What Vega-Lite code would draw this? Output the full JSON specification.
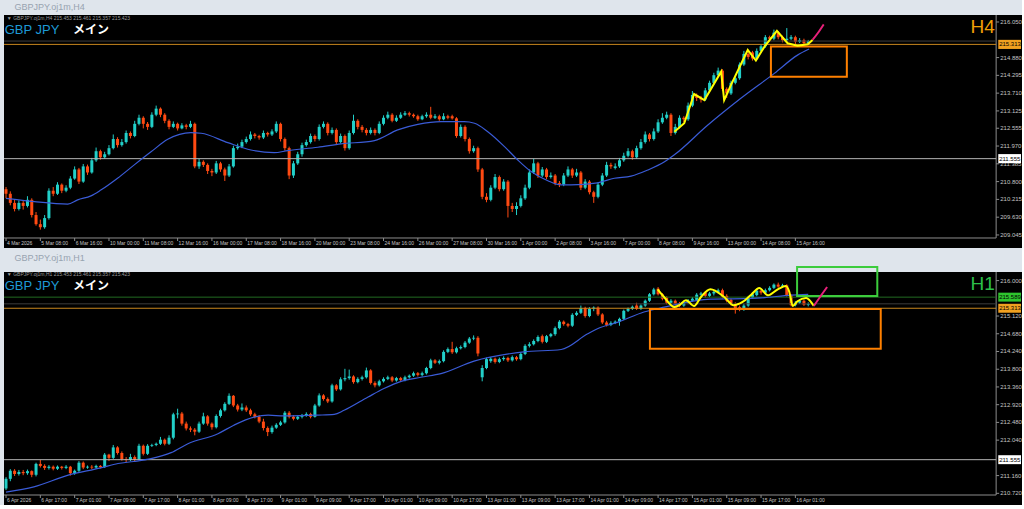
{
"$schema":"https://vega.github.io/schema/vega-lite/v6.json",
"background":"#dfe5ec",
"padding":{"left":3,"top":2,"right":0,"bottom":0},
"bounds":"flush",
"spacing":24,
"config":{"view":{"stroke":null,"fill":null},"font":"Liberation Sans"},
"datasets":{
"xl4":[{"b":0,"t":"4 Mar 2026"},{"b":8,"t":"5 Mar 08:00"},{"b":16,"t":"6 Mar 16:00"},{"b":24,"t":"10 Mar 00:00"},{"b":32,"t":"11 Mar 08:00"},{"b":40,"t":"12 Mar 16:00"},{"b":48,"t":"16 Mar 00:00"},{"b":56,"t":"17 Mar 08:00"},{"b":64,"t":"18 Mar 16:00"},{"b":72,"t":"20 Mar 00:00"},{"b":80,"t":"23 Mar 08:00"},{"b":88,"t":"24 Mar 16:00"},{"b":96,"t":"26 Mar 00:00"},{"b":104,"t":"27 Mar 08:00"},{"b":112,"t":"30 Mar 16:00"},{"b":120,"t":"1 Apr 00:00"},{"b":128,"t":"2 Apr 08:00"},{"b":136,"t":"3 Apr 16:00"},{"b":144,"t":"7 Apr 00:00"},{"b":152,"t":"8 Apr 08:00"},{"b":160,"t":"9 Apr 16:00"},{"b":168,"t":"13 Apr 00:00"},{"b":176,"t":"14 Apr 08:00"},{"b":184,"t":"15 Apr 16:00"}],
"xl1":[{"b":0,"t":"6 Apr 2026"},{"b":8,"t":"6 Apr 17:00"},{"b":16,"t":"7 Apr 01:00"},{"b":24,"t":"7 Apr 09:00"},{"b":32,"t":"7 Apr 17:00"},{"b":40,"t":"8 Apr 01:00"},{"b":48,"t":"8 Apr 09:00"},{"b":56,"t":"8 Apr 17:00"},{"b":64,"t":"9 Apr 01:00"},{"b":72,"t":"9 Apr 09:00"},{"b":80,"t":"9 Apr 17:00"},{"b":88,"t":"10 Apr 01:00"},{"b":96,"t":"10 Apr 09:00"},{"b":104,"t":"10 Apr 17:00"},{"b":112,"t":"13 Apr 01:00"},{"b":120,"t":"13 Apr 09:00"},{"b":128,"t":"13 Apr 17:00"},{"b":136,"t":"14 Apr 01:00"},{"b":144,"t":"14 Apr 09:00"},{"b":152,"t":"14 Apr 17:00"},{"b":160,"t":"15 Apr 01:00"},{"b":168,"t":"15 Apr 09:00"},{"b":176,"t":"15 Apr 17:00"},{"b":184,"t":"16 Apr 01:00"}],
"yl4":[{"p":216.05,"t":"216.050"},{"p":214.88,"t":"214.880"},{"p":214.295,"t":"214.295"},{"p":213.71,"t":"213.710"},{"p":213.125,"t":"213.125"},{"p":212.555,"t":"212.555"},{"p":211.97,"t":"211.970"},{"p":211.385,"t":"211.385"},{"p":210.8,"t":"210.800"},{"p":210.215,"t":"210.215"},{"p":209.63,"t":"209.630"},{"p":209.045,"t":"209.045"}],
"yl1":[{"p":216.0,"t":"216.000"},{"p":215.12,"t":"215.120"},{"p":214.68,"t":"214.680"},{"p":214.24,"t":"214.240"},{"p":213.8,"t":"213.800"},{"p":213.36,"t":"213.360"},{"p":212.92,"t":"212.920"},{"p":212.48,"t":"212.480"},{"p":212.04,"t":"212.040"},{"p":211.16,"t":"211.160"},{"p":210.72,"t":"210.720"}],
"h4":[
{"b":0,"o":210.55,"h":210.62,"l":210.25,"c":210.40},{"b":1,"o":210.40,"h":210.48,"l":210.02,"c":210.10},{"b":2,"o":210.10,"h":210.22,"l":209.82,"c":209.90},{"b":3,"o":209.90,"h":210.18,"l":209.85,"c":210.10},{"b":4,"o":210.10,"h":210.16,"l":209.88,"c":210.00},{"b":5,"o":210.00,"h":210.32,"l":209.95,"c":210.20},{"b":6,"o":210.20,"h":210.25,"l":209.62,"c":209.70},{"b":7,"o":209.70,"h":209.80,"l":209.35,"c":209.40},{"b":8,"o":209.40,"h":209.55,"l":209.22,"c":209.30},{"b":9,"o":209.30,"h":209.70,"l":209.25,"c":209.60},
{"b":10,"o":209.60,"h":210.58,"l":209.55,"c":210.50},{"b":11,"o":210.50,"h":210.62,"l":210.32,"c":210.40},{"b":12,"o":210.40,"h":210.78,"l":210.36,"c":210.70},{"b":13,"o":210.70,"h":210.74,"l":210.42,"c":210.50},{"b":14,"o":210.50,"h":210.68,"l":210.45,"c":210.60},{"b":15,"o":210.60,"h":210.98,"l":210.55,"c":210.90},{"b":16,"o":210.90,"h":211.30,"l":210.86,"c":211.20},{"b":17,"o":211.20,"h":211.25,"l":210.72,"c":210.80},{"b":18,"o":210.80,"h":211.38,"l":210.76,"c":211.30},{"b":19,"o":211.30,"h":211.36,"l":211.02,"c":211.10},
{"b":20,"o":211.10,"h":211.58,"l":211.06,"c":211.50},{"b":21,"o":211.50,"h":211.92,"l":211.45,"c":211.80},{"b":22,"o":211.80,"h":211.85,"l":211.52,"c":211.60},{"b":23,"o":211.60,"h":211.78,"l":211.55,"c":211.70},{"b":24,"o":211.70,"h":212.00,"l":211.66,"c":211.90},{"b":25,"o":211.90,"h":212.35,"l":211.86,"c":212.20},{"b":26,"o":212.20,"h":212.26,"l":211.92,"c":212.00},{"b":27,"o":212.00,"h":212.20,"l":211.95,"c":212.10},{"b":28,"o":212.10,"h":212.48,"l":212.05,"c":212.40},{"b":29,"o":212.40,"h":212.45,"l":212.22,"c":212.30},
{"b":30,"o":212.30,"h":212.80,"l":212.26,"c":212.70},{"b":31,"o":212.70,"h":213.00,"l":212.65,"c":212.90},{"b":32,"o":212.90,"h":212.95,"l":212.55,"c":212.70},{"b":33,"o":212.70,"h":212.76,"l":212.50,"c":212.60},{"b":34,"o":212.60,"h":213.08,"l":212.56,"c":213.00},{"b":35,"o":213.00,"h":213.30,"l":212.95,"c":213.20},{"b":36,"o":213.20,"h":213.24,"l":212.92,"c":213.00},{"b":37,"o":213.00,"h":213.05,"l":212.72,"c":212.80},{"b":38,"o":212.80,"h":212.85,"l":212.52,"c":212.60},{"b":39,"o":212.60,"h":212.78,"l":212.56,"c":212.70},
{"b":40,"o":212.70,"h":212.74,"l":212.48,"c":212.55},{"b":41,"o":212.55,"h":212.72,"l":212.52,"c":212.65},{"b":42,"o":212.65,"h":212.70,"l":212.52,"c":212.60},{"b":43,"o":212.60,"h":212.80,"l":212.56,"c":212.70},{"b":44,"o":212.70,"h":212.74,"l":211.24,"c":211.30},{"b":45,"o":211.30,"h":211.55,"l":211.22,"c":211.45},{"b":46,"o":211.45,"h":211.50,"l":211.28,"c":211.35},{"b":47,"o":211.35,"h":211.40,"l":211.05,"c":211.15},{"b":48,"o":211.15,"h":211.22,"l":210.98,"c":211.10},{"b":49,"o":211.10,"h":211.48,"l":211.05,"c":211.40},
{"b":50,"o":211.40,"h":211.45,"l":211.12,"c":211.20},{"b":51,"o":211.20,"h":211.26,"l":210.82,"c":211.00},{"b":52,"o":211.00,"h":211.38,"l":210.95,"c":211.30},{"b":53,"o":211.30,"h":211.98,"l":211.26,"c":211.90},{"b":54,"o":211.90,"h":212.05,"l":211.85,"c":211.95},{"b":55,"o":211.95,"h":212.18,"l":211.90,"c":212.10},{"b":56,"o":212.10,"h":212.28,"l":212.05,"c":212.20},{"b":57,"o":212.20,"h":212.45,"l":212.15,"c":212.35},{"b":58,"o":212.35,"h":212.40,"l":212.22,"c":212.30},{"b":59,"o":212.30,"h":212.34,"l":212.18,"c":212.25},
{"b":60,"o":212.25,"h":212.48,"l":212.20,"c":212.40},{"b":61,"o":212.40,"h":212.44,"l":212.28,"c":212.35},{"b":62,"o":212.35,"h":212.52,"l":212.30,"c":212.45},{"b":63,"o":212.45,"h":212.78,"l":212.40,"c":212.70},{"b":64,"o":212.70,"h":212.74,"l":212.12,"c":212.20},{"b":65,"o":212.20,"h":212.25,"l":211.82,"c":211.90},{"b":66,"o":211.90,"h":211.95,"l":210.88,"c":211.00},{"b":67,"o":211.00,"h":211.48,"l":210.92,"c":211.40},{"b":68,"o":211.40,"h":211.78,"l":211.35,"c":211.70},{"b":69,"o":211.70,"h":212.08,"l":211.62,"c":212.00},
{"b":70,"o":212.00,"h":212.18,"l":211.95,"c":212.10},{"b":71,"o":212.10,"h":212.38,"l":212.05,"c":212.30},{"b":72,"o":212.30,"h":212.35,"l":212.12,"c":212.20},{"b":73,"o":212.20,"h":212.68,"l":212.15,"c":212.60},{"b":74,"o":212.60,"h":212.78,"l":212.55,"c":212.70},{"b":75,"o":212.70,"h":212.75,"l":212.32,"c":212.40},{"b":76,"o":212.40,"h":212.58,"l":212.35,"c":212.50},{"b":77,"o":212.50,"h":212.55,"l":212.02,"c":212.10},{"b":78,"o":212.10,"h":212.38,"l":212.05,"c":212.30},{"b":79,"o":212.30,"h":212.35,"l":211.82,"c":211.90},
{"b":80,"o":211.90,"h":212.48,"l":211.85,"c":212.40},{"b":81,"o":212.40,"h":213.00,"l":212.35,"c":212.80},{"b":82,"o":212.80,"h":212.85,"l":212.52,"c":212.60},{"b":83,"o":212.60,"h":212.66,"l":212.42,"c":212.50},{"b":84,"o":212.50,"h":212.56,"l":212.32,"c":212.40},{"b":85,"o":212.40,"h":212.58,"l":212.35,"c":212.50},{"b":86,"o":212.50,"h":212.55,"l":212.32,"c":212.40},{"b":87,"o":212.40,"h":212.78,"l":212.36,"c":212.70},{"b":88,"o":212.70,"h":212.98,"l":212.65,"c":212.90},{"b":89,"o":212.90,"h":213.10,"l":212.85,"c":213.00},
{"b":90,"o":213.00,"h":213.05,"l":212.75,"c":212.80},{"b":91,"o":212.80,"h":212.98,"l":212.76,"c":212.90},{"b":92,"o":212.90,"h":213.08,"l":212.86,"c":213.00},{"b":93,"o":213.00,"h":213.12,"l":212.96,"c":213.05},{"b":94,"o":213.05,"h":213.10,"l":212.94,"c":213.00},{"b":95,"o":213.00,"h":213.04,"l":212.90,"c":212.95},{"b":96,"o":212.95,"h":213.00,"l":212.80,"c":212.85},{"b":97,"o":212.85,"h":213.00,"l":212.82,"c":212.95},{"b":98,"o":212.95,"h":213.08,"l":212.90,"c":213.00},{"b":99,"o":213.00,"h":213.26,"l":212.85,"c":212.90},
{"b":100,"o":212.90,"h":213.02,"l":212.86,"c":212.95},{"b":101,"o":212.95,"h":213.00,"l":212.80,"c":212.85},{"b":102,"o":212.85,"h":213.05,"l":212.82,"c":212.95},{"b":103,"o":212.95,"h":213.00,"l":212.85,"c":212.90},{"b":104,"o":212.95,"h":213.00,"l":212.84,"c":212.88},{"b":105,"o":212.88,"h":212.92,"l":212.24,"c":212.30},{"b":106,"o":212.30,"h":212.68,"l":212.25,"c":212.60},{"b":107,"o":212.60,"h":212.65,"l":212.12,"c":212.20},{"b":108,"o":212.20,"h":212.25,"l":211.72,"c":211.80},{"b":109,"o":211.80,"h":211.98,"l":211.75,"c":211.90},
{"b":110,"o":211.90,"h":211.95,"l":211.12,"c":211.20},{"b":111,"o":211.20,"h":211.25,"l":210.22,"c":210.30},{"b":112,"o":210.30,"h":210.42,"l":210.12,"c":210.20},{"b":113,"o":210.20,"h":210.68,"l":210.15,"c":210.60},{"b":114,"o":210.60,"h":211.05,"l":210.55,"c":210.95},{"b":115,"o":210.95,"h":211.00,"l":210.48,"c":210.55},{"b":116,"o":210.55,"h":210.88,"l":210.50,"c":210.80},{"b":117,"o":210.80,"h":210.85,"l":209.62,"c":210.00},{"b":118,"o":210.00,"h":210.10,"l":209.80,"c":209.90},{"b":119,"o":209.90,"h":210.12,"l":209.70,"c":210.00},
{"b":120,"o":210.00,"h":210.35,"l":209.95,"c":210.25},{"b":121,"o":210.25,"h":210.70,"l":210.20,"c":210.60},{"b":122,"o":210.60,"h":211.20,"l":210.55,"c":211.10},{"b":123,"o":211.10,"h":211.55,"l":211.05,"c":211.40},{"b":124,"o":211.40,"h":211.45,"l":210.92,"c":211.00},{"b":125,"o":211.00,"h":211.28,"l":210.95,"c":211.20},{"b":126,"o":211.20,"h":211.25,"l":210.88,"c":210.95},{"b":127,"o":210.95,"h":211.10,"l":210.90,"c":211.00},{"b":128,"o":211.00,"h":211.05,"l":210.68,"c":210.75},{"b":129,"o":210.75,"h":210.82,"l":210.62,"c":210.70},
{"b":130,"o":210.70,"h":211.08,"l":210.65,"c":211.00},{"b":131,"o":211.00,"h":211.30,"l":210.95,"c":211.20},{"b":132,"o":211.20,"h":211.25,"l":210.92,"c":211.00},{"b":133,"o":211.00,"h":211.22,"l":210.95,"c":211.10},{"b":134,"o":211.10,"h":211.15,"l":210.52,"c":210.60},{"b":135,"o":210.60,"h":210.88,"l":210.55,"c":210.80},{"b":136,"o":210.80,"h":210.85,"l":210.38,"c":210.45},{"b":137,"o":210.45,"h":210.50,"l":210.10,"c":210.30},{"b":138,"o":210.30,"h":210.78,"l":210.25,"c":210.70},{"b":139,"o":210.70,"h":211.08,"l":210.65,"c":211.00},
{"b":140,"o":211.00,"h":211.45,"l":210.95,"c":211.35},{"b":141,"o":211.35,"h":211.42,"l":211.22,"c":211.30},{"b":142,"o":211.25,"h":211.40,"l":211.20,"c":211.30},{"b":143,"o":211.30,"h":211.58,"l":211.25,"c":211.50},{"b":144,"o":211.50,"h":211.75,"l":211.45,"c":211.65},{"b":145,"o":211.65,"h":211.90,"l":211.60,"c":211.80},{"b":146,"o":211.80,"h":211.85,"l":211.52,"c":211.60},{"b":147,"o":211.60,"h":211.98,"l":211.55,"c":211.90},{"b":148,"o":211.90,"h":212.20,"l":211.85,"c":212.10},{"b":149,"o":212.10,"h":212.45,"l":212.05,"c":212.35},
{"b":150,"o":212.35,"h":212.40,"l":212.12,"c":212.20},{"b":151,"o":212.20,"h":212.55,"l":212.15,"c":212.45},{"b":152,"o":212.45,"h":212.85,"l":212.40,"c":212.75},{"b":153,"o":212.75,"h":213.05,"l":212.70,"c":212.90},{"b":154,"o":212.90,"h":213.10,"l":212.85,"c":213.00},{"b":155,"o":213.00,"h":213.05,"l":212.30,"c":212.40},{"b":156,"o":212.40,"h":212.70,"l":212.35,"c":212.60},{"b":157,"o":212.60,"h":212.98,"l":212.55,"c":212.90},{"b":158,"o":212.90,"h":212.95,"l":212.75,"c":212.85},{"b":159,"o":212.85,"h":213.40,"l":212.80,"c":213.30},
{"b":160,"o":213.30,"h":213.78,"l":213.25,"c":213.65},{"b":161,"o":213.65,"h":213.70,"l":213.45,"c":213.55},{"b":162,"o":213.55,"h":213.62,"l":213.40,"c":213.50},{"b":163,"o":213.50,"h":213.88,"l":213.45,"c":213.80},{"b":164,"o":213.80,"h":214.12,"l":213.75,"c":214.05},{"b":165,"o":214.05,"h":214.38,"l":214.00,"c":214.30},{"b":166,"o":214.30,"h":214.55,"l":214.25,"c":214.45},{"b":167,"o":214.45,"h":214.50,"l":213.78,"c":213.85},{"b":168,"o":213.85,"h":213.90,"l":213.55,"c":213.70},{"b":169,"o":213.70,"h":214.12,"l":213.65,"c":214.05},
{"b":170,"o":214.05,"h":214.28,"l":214.00,"c":214.20},{"b":171,"o":214.20,"h":214.72,"l":214.15,"c":214.65},{"b":172,"o":214.65,"h":215.10,"l":214.60,"c":215.00},{"b":173,"o":215.00,"h":215.08,"l":214.82,"c":214.90},{"b":174,"o":215.05,"h":215.10,"l":214.78,"c":214.85},{"b":175,"o":214.85,"h":215.18,"l":214.80,"c":215.10},{"b":176,"o":215.10,"h":215.32,"l":215.05,"c":215.25},{"b":177,"o":215.25,"h":215.62,"l":215.20,"c":215.55},{"b":178,"o":215.55,"h":215.60,"l":215.40,"c":215.50},{"b":179,"o":215.50,"h":215.80,"l":215.45,"c":215.70},
{"b":180,"o":215.70,"h":215.75,"l":215.48,"c":215.55},{"b":181,"o":215.55,"h":215.60,"l":215.38,"c":215.45},{"b":182,"o":215.45,"h":215.85,"l":215.40,"c":215.50},{"b":183,"o":215.50,"h":215.62,"l":215.45,"c":215.55},{"b":184,"o":215.55,"h":215.60,"l":215.32,"c":215.40},{"b":185,"o":215.40,"h":215.52,"l":215.36,"c":215.45},{"b":186,"o":215.45,"h":215.50,"l":215.30,"c":215.35},{"b":187,"o":215.35,"h":215.46,"l":215.32,"c":215.42}
],
"h1":[
{"b":0,"o":210.84,"h":211.12,"l":210.80,"c":211.08},{"b":1,"o":211.08,"h":211.32,"l":211.02,"c":211.28},{"b":2,"o":211.28,"h":211.32,"l":211.15,"c":211.20},{"b":3,"o":211.20,"h":211.30,"l":211.16,"c":211.25},{"b":4,"o":211.25,"h":211.30,"l":211.17,"c":211.22},{"b":5,"o":211.22,"h":211.31,"l":211.18,"c":211.27},{"b":6,"o":211.27,"h":211.29,"l":211.12,"c":211.18},{"b":7,"o":211.18,"h":211.48,"l":211.14,"c":211.45},{"b":8,"o":211.45,"h":211.55,"l":211.36,"c":211.40},{"b":9,"o":211.40,"h":211.44,"l":211.30,"c":211.35},
{"b":10,"o":211.35,"h":211.42,"l":211.31,"c":211.38},{"b":11,"o":211.38,"h":211.41,"l":211.29,"c":211.33},{"b":12,"o":211.33,"h":211.41,"l":211.30,"c":211.38},{"b":13,"o":211.38,"h":211.40,"l":211.31,"c":211.35},{"b":14,"o":211.35,"h":211.42,"l":211.32,"c":211.38},{"b":15,"o":211.38,"h":211.40,"l":211.16,"c":211.22},{"b":16,"o":211.22,"h":211.31,"l":211.18,"c":211.28},{"b":17,"o":211.28,"h":211.52,"l":211.25,"c":211.48},{"b":18,"o":211.48,"h":211.51,"l":211.32,"c":211.36},{"b":19,"o":211.36,"h":211.41,"l":211.33,"c":211.38},
{"b":20,"o":211.38,"h":211.42,"l":211.32,"c":211.36},{"b":21,"o":211.36,"h":211.43,"l":211.33,"c":211.40},{"b":22,"o":211.40,"h":211.42,"l":211.34,"c":211.37},{"b":23,"o":211.37,"h":211.72,"l":211.35,"c":211.68},{"b":24,"o":211.68,"h":211.70,"l":211.52,"c":211.60},{"b":25,"o":211.60,"h":211.92,"l":211.57,"c":211.86},{"b":26,"o":211.86,"h":211.89,"l":211.68,"c":211.72},{"b":27,"o":211.72,"h":211.76,"l":211.53,"c":211.57},{"b":28,"o":211.57,"h":211.62,"l":211.49,"c":211.55},{"b":29,"o":211.55,"h":211.70,"l":211.52,"c":211.62},
{"b":30,"o":211.62,"h":211.66,"l":211.50,"c":211.56},{"b":31,"o":211.56,"h":211.95,"l":211.54,"c":211.90},{"b":32,"o":211.90,"h":211.93,"l":211.66,"c":211.70},{"b":33,"o":211.70,"h":211.94,"l":211.67,"c":211.90},{"b":34,"o":211.90,"h":211.95,"l":211.87,"c":211.92},{"b":35,"o":211.92,"h":211.98,"l":211.89,"c":211.95},{"b":36,"o":211.95,"h":212.12,"l":211.92,"c":212.05},{"b":37,"o":212.05,"h":212.08,"l":211.91,"c":211.95},{"b":38,"o":211.95,"h":212.16,"l":211.92,"c":212.10},{"b":39,"o":212.10,"h":212.72,"l":212.06,"c":212.68},
{"b":40,"o":212.68,"h":212.82,"l":212.58,"c":212.70},{"b":41,"o":212.70,"h":212.74,"l":212.40,"c":212.45},{"b":42,"o":212.45,"h":212.50,"l":212.28,"c":212.33},{"b":43,"o":212.33,"h":212.38,"l":212.24,"c":212.30},{"b":44,"o":212.30,"h":212.34,"l":212.16,"c":212.25},{"b":45,"o":212.25,"h":212.50,"l":212.22,"c":212.45},{"b":46,"o":212.45,"h":212.72,"l":212.42,"c":212.63},{"b":47,"o":212.63,"h":212.66,"l":212.40,"c":212.45},{"b":48,"o":212.45,"h":212.48,"l":212.30,"c":212.36},{"b":49,"o":212.36,"h":212.68,"l":212.33,"c":212.64},
{"b":50,"o":212.64,"h":212.82,"l":212.60,"c":212.78},{"b":51,"o":212.78,"h":212.98,"l":212.75,"c":212.94},{"b":52,"o":212.94,"h":213.20,"l":212.91,"c":213.14},{"b":53,"o":213.14,"h":213.16,"l":212.86,"c":212.90},{"b":54,"o":212.90,"h":212.94,"l":212.75,"c":212.80},{"b":55,"o":212.80,"h":212.95,"l":212.76,"c":212.85},{"b":56,"o":212.85,"h":212.90,"l":212.74,"c":212.78},{"b":57,"o":212.78,"h":212.82,"l":212.64,"c":212.68},{"b":58,"o":212.68,"h":212.72,"l":212.58,"c":212.62},{"b":59,"o":212.62,"h":212.66,"l":212.46,"c":212.50},
{"b":60,"o":212.50,"h":212.57,"l":212.28,"c":212.34},{"b":61,"o":212.34,"h":212.38,"l":212.14,"c":212.24},{"b":62,"o":212.24,"h":212.40,"l":212.20,"c":212.35},{"b":63,"o":212.35,"h":212.46,"l":212.32,"c":212.42},{"b":64,"o":212.42,"h":212.52,"l":212.39,"c":212.48},{"b":65,"o":212.48,"h":212.76,"l":212.45,"c":212.72},{"b":66,"o":212.72,"h":212.76,"l":212.58,"c":212.62},{"b":67,"o":212.62,"h":212.66,"l":212.53,"c":212.57},{"b":68,"o":212.57,"h":212.66,"l":212.54,"c":212.62},{"b":69,"o":212.62,"h":212.69,"l":212.58,"c":212.65},
{"b":70,"o":212.65,"h":212.73,"l":212.62,"c":212.69},{"b":71,"o":212.69,"h":212.72,"l":212.58,"c":212.62},{"b":72,"o":212.62,"h":212.94,"l":212.60,"c":212.90},{"b":73,"o":212.90,"h":213.20,"l":212.87,"c":213.15},{"b":74,"o":213.15,"h":213.18,"l":213.02,"c":213.06},{"b":75,"o":213.06,"h":213.10,"l":212.96,"c":213.00},{"b":76,"o":213.00,"h":213.44,"l":212.97,"c":213.40},{"b":77,"o":213.40,"h":213.43,"l":213.26,"c":213.30},{"b":78,"o":213.30,"h":213.60,"l":213.27,"c":213.55},{"b":79,"o":213.55,"h":213.81,"l":213.50,"c":213.58},
{"b":80,"o":213.58,"h":213.79,"l":213.54,"c":213.62},{"b":81,"o":213.62,"h":213.65,"l":213.44,"c":213.48},{"b":82,"o":213.48,"h":213.60,"l":213.45,"c":213.56},{"b":83,"o":213.56,"h":213.64,"l":213.52,"c":213.60},{"b":84,"o":213.60,"h":213.84,"l":213.57,"c":213.77},{"b":85,"o":213.77,"h":213.80,"l":213.42,"c":213.46},{"b":86,"o":213.46,"h":213.50,"l":213.35,"c":213.40},{"b":87,"o":213.40,"h":213.54,"l":213.37,"c":213.50},{"b":88,"o":213.50,"h":213.60,"l":213.47,"c":213.56},{"b":89,"o":213.56,"h":213.64,"l":213.53,"c":213.60},
{"b":90,"o":213.60,"h":213.63,"l":213.48,"c":213.52},{"b":91,"o":213.52,"h":213.61,"l":213.49,"c":213.58},{"b":92,"o":213.58,"h":213.61,"l":213.50,"c":213.53},{"b":93,"o":213.53,"h":213.64,"l":213.50,"c":213.60},{"b":94,"o":213.60,"h":213.67,"l":213.57,"c":213.64},{"b":95,"o":213.64,"h":213.74,"l":213.61,"c":213.70},{"b":96,"o":213.70,"h":213.73,"l":213.62,"c":213.66},{"b":97,"o":213.66,"h":213.74,"l":213.62,"c":213.70},{"b":98,"o":213.70,"h":213.86,"l":213.67,"c":213.83},{"b":99,"o":213.83,"h":214.06,"l":213.80,"c":214.02},
{"b":100,"o":214.02,"h":214.05,"l":213.93,"c":213.96},{"b":101,"o":213.96,"h":214.04,"l":213.92,"c":214.00},{"b":102,"o":214.00,"h":214.27,"l":213.97,"c":214.23},{"b":103,"o":214.23,"h":214.34,"l":214.20,"c":214.30},{"b":104,"o":214.30,"h":214.48,"l":214.18,"c":214.22},{"b":105,"o":214.22,"h":214.36,"l":214.19,"c":214.32},{"b":106,"o":214.32,"h":214.39,"l":214.29,"c":214.35},{"b":107,"o":214.35,"h":214.50,"l":214.32,"c":214.46},{"b":108,"o":214.46,"h":214.60,"l":214.43,"c":214.56},{"b":109,"o":214.56,"h":214.64,"l":214.52,"c":214.58},
{"b":110,"o":214.58,"h":214.62,"l":214.12,"c":214.19},{"b":111,"o":213.60,"h":213.90,"l":213.50,"c":213.83},{"b":112,"o":213.83,"h":214.09,"l":213.80,"c":214.05},{"b":113,"o":214.00,"h":214.10,"l":213.96,"c":214.06},{"b":114,"o":214.06,"h":214.09,"l":213.94,"c":213.98},{"b":115,"o":213.98,"h":214.09,"l":213.95,"c":214.05},{"b":116,"o":214.05,"h":214.12,"l":214.01,"c":214.08},{"b":117,"o":214.08,"h":214.11,"l":213.98,"c":214.02},{"b":118,"o":214.02,"h":214.14,"l":213.99,"c":214.10},{"b":119,"o":214.10,"h":214.13,"l":214.01,"c":214.05},
{"b":120,"o":214.05,"h":214.22,"l":214.02,"c":214.18},{"b":121,"o":214.18,"h":214.42,"l":214.15,"c":214.38},{"b":122,"o":214.38,"h":214.47,"l":214.34,"c":214.42},{"b":123,"o":214.42,"h":214.54,"l":214.39,"c":214.50},{"b":124,"o":214.50,"h":214.64,"l":214.47,"c":214.60},{"b":125,"o":214.62,"h":214.66,"l":214.44,"c":214.48},{"b":126,"o":214.48,"h":214.65,"l":214.45,"c":214.62},{"b":127,"o":214.62,"h":214.70,"l":214.59,"c":214.67},{"b":128,"o":214.67,"h":214.86,"l":214.63,"c":214.82},{"b":129,"o":214.82,"h":215.02,"l":214.79,"c":214.98},
{"b":130,"o":214.98,"h":215.01,"l":214.88,"c":214.92},{"b":131,"o":214.92,"h":214.95,"l":214.84,"c":214.88},{"b":132,"o":214.88,"h":215.19,"l":214.85,"c":215.15},{"b":133,"o":215.15,"h":215.24,"l":215.12,"c":215.20},{"b":134,"o":215.20,"h":215.38,"l":215.17,"c":215.32},{"b":135,"o":215.32,"h":215.35,"l":215.08,"c":215.12},{"b":136,"o":215.12,"h":215.34,"l":215.09,"c":215.30},{"b":137,"o":215.30,"h":215.36,"l":215.24,"c":215.33},{"b":138,"o":215.33,"h":215.36,"l":215.12,"c":215.16},{"b":139,"o":215.16,"h":215.19,"l":214.92,"c":214.96},
{"b":140,"o":214.96,"h":215.00,"l":214.86,"c":214.90},{"b":141,"o":214.90,"h":214.99,"l":214.87,"c":214.95},{"b":142,"o":214.95,"h":215.01,"l":214.92,"c":214.98},{"b":143,"o":214.98,"h":215.08,"l":214.88,"c":215.05},{"b":144,"o":215.05,"h":215.28,"l":215.02,"c":215.25},{"b":145,"o":215.25,"h":215.33,"l":215.22,"c":215.30},{"b":146,"o":215.30,"h":215.38,"l":215.27,"c":215.35},{"b":147,"o":215.38,"h":215.45,"l":215.27,"c":215.30},{"b":148,"o":215.30,"h":215.41,"l":215.27,"c":215.38},{"b":149,"o":215.38,"h":215.53,"l":215.35,"c":215.50},
{"b":150,"o":215.50,"h":215.69,"l":215.47,"c":215.66},{"b":151,"o":215.66,"h":215.82,"l":215.63,"c":215.78},{"b":152,"o":215.80,"h":215.84,"l":215.63,"c":215.66},{"b":153,"o":215.66,"h":215.69,"l":215.51,"c":215.55},{"b":154,"o":215.58,"h":215.61,"l":215.41,"c":215.45},{"b":155,"o":215.45,"h":215.54,"l":215.42,"c":215.50},{"b":156,"o":215.50,"h":215.53,"l":215.39,"c":215.42},{"b":157,"o":215.44,"h":215.47,"l":215.34,"c":215.38},{"b":158,"o":215.38,"h":215.50,"l":215.35,"c":215.46},{"b":159,"o":215.46,"h":215.54,"l":215.43,"c":215.50},
{"b":160,"o":215.50,"h":215.59,"l":215.47,"c":215.55},{"b":161,"o":215.52,"h":215.69,"l":215.49,"c":215.65},{"b":162,"o":215.65,"h":215.72,"l":215.62,"c":215.68},{"b":163,"o":215.70,"h":215.73,"l":215.58,"c":215.62},{"b":164,"o":215.62,"h":215.72,"l":215.59,"c":215.68},{"b":165,"o":215.68,"h":215.76,"l":215.63,"c":215.72},{"b":166,"o":215.72,"h":215.80,"l":215.68,"c":215.76},{"b":167,"o":215.76,"h":215.80,"l":215.56,"c":215.60},{"b":168,"o":215.62,"h":215.66,"l":215.46,"c":215.50},{"b":169,"o":215.52,"h":215.55,"l":215.38,"c":215.42},
{"b":170,"o":215.42,"h":215.46,"l":215.18,"c":215.30},{"b":171,"o":215.34,"h":215.38,"l":215.24,"c":215.28},{"b":172,"o":215.28,"h":215.42,"l":215.25,"c":215.38},{"b":173,"o":215.38,"h":215.62,"l":215.35,"c":215.58},{"b":174,"o":215.58,"h":215.70,"l":215.55,"c":215.66},{"b":175,"o":215.64,"h":215.79,"l":215.61,"c":215.75},{"b":176,"o":215.75,"h":215.78,"l":215.65,"c":215.70},{"b":177,"o":215.70,"h":215.80,"l":215.67,"c":215.76},{"b":178,"o":215.76,"h":215.86,"l":215.73,"c":215.82},{"b":179,"o":215.82,"h":215.93,"l":215.79,"c":215.90},
{"b":180,"o":215.90,"h":215.95,"l":215.82,"c":215.85},{"b":181,"o":215.85,"h":215.92,"l":215.82,"c":215.88},{"b":182,"o":215.88,"h":215.91,"l":215.60,"c":215.63},{"b":183,"o":215.63,"h":215.66,"l":215.36,"c":215.39},{"b":184,"o":215.39,"h":215.49,"l":215.36,"c":215.45},{"b":185,"o":215.45,"h":215.54,"l":215.42,"c":215.50},{"b":186,"o":215.50,"h":215.53,"l":215.37,"c":215.40},{"b":187,"o":215.40,"h":215.46,"l":215.36,"c":215.42}
],
"ma4":[{"b":0,"p":210.25},{"b":6.6,"p":210.14},{"b":14.4,"p":210.06},{"b":16.7,"p":210.2},{"b":19.8,"p":210.33},{"b":22.1,"p":210.52},{"b":26,"p":210.91},{"b":29.9,"p":211.35},{"b":33.8,"p":211.78},{"b":37.7,"p":212.19},{"b":43.1,"p":212.41},{"b":45.5,"p":212.39},{"b":51.7,"p":212.08},{"b":57.1,"p":211.84},{"b":62.5,"p":211.75},{"b":65.7,"p":211.82},{"b":72.7,"p":211.93},{"b":78.1,"p":212.04},{"b":85.9,"p":212.15},{"b":91.3,"p":212.5},{"b":96,"p":212.68},{"b":101.4,"p":212.77},{"b":106.8,"p":212.77},{"b":109.2,"p":212.72},{"b":112.3,"p":212.44},{"b":116.2,"p":211.95},{"b":119.3,"p":211.51},{"b":122.4,"p":211.13},{"b":126.3,"p":210.83},{"b":129.4,"p":210.69},{"b":131.7,"p":210.69},{"b":137.9,"p":210.76},{"b":141.8,"p":210.91},{"b":145.7,"p":210.98},{"b":149.6,"p":211.18},{"b":153.5,"p":211.45},{"b":155.8,"p":211.68},{"b":163.6,"p":212.66},{"b":171.3,"p":213.54},{"b":179.1,"p":214.36},{"b":184.5,"p":214.96},{"b":187.2,"p":215.16}],
"ma1":[{"b":0,"p":210.75},{"b":6.5,"p":210.88},{"b":14.5,"p":211.17},{"b":22.1,"p":211.35},{"b":26.1,"p":211.46},{"b":29.8,"p":211.51},{"b":33.8,"p":211.58},{"b":38.5,"p":211.73},{"b":42.4,"p":211.95},{"b":49.4,"p":212.2},{"b":53.1,"p":212.41},{"b":57.8,"p":212.61},{"b":61.1,"p":212.66},{"b":64.8,"p":212.64},{"b":72.7,"p":212.66},{"b":76.5,"p":212.68},{"b":78.8,"p":212.78},{"b":84.4,"p":213.11},{"b":88.1,"p":213.32},{"b":92.1,"p":213.5},{"b":96.7,"p":213.6},{"b":101.4,"p":213.69},{"b":109.1,"p":214.0},{"b":120.7,"p":214.23},{"b":129.4,"p":214.29},{"b":135.6,"p":214.68},{"b":138,"p":214.81},{"b":142.7,"p":214.97},{"b":148.7,"p":215.22},{"b":153.4,"p":215.34},{"b":164.3,"p":215.54},{"b":172,"p":215.55},{"b":176,"p":215.57},{"b":183,"p":215.64},{"b":187,"p":215.66}],
"yel4":[{"b":155.8,"p":212.44},{"b":158.1,"p":212.72},{"b":160.4,"p":213.68},{"b":162.8,"p":213.48},{"b":166.7,"p":214.415},{"b":167.4,"p":213.48},{"b":169.0,"p":213.98},{"b":172.9,"p":215.13},{"b":174.8,"p":214.78},{"b":176.8,"p":215.24},{"b":179.7,"p":215.76},{"b":182.2,"p":215.35},{"b":184.5,"p":215.27},{"b":186.9,"p":215.32},{"b":188.0,"p":215.46}],
"mag4":[{"b":188.0,"p":215.46},{"b":189.2,"p":215.68},{"b":190.6,"p":215.97}],
"yel1":[{"b":151.9,"p":215.784},{"b":153.4,"p":215.593},{"b":155.8,"p":215.345},{"b":156.9,"p":215.387},{"b":158.5,"p":215.511},{"b":160.4,"p":215.37},{"b":162.0,"p":215.593},{"b":164.2,"p":215.784},{"b":167.4,"p":215.593},{"b":169.6,"p":215.387},{"b":171.7,"p":215.469},{"b":173.7,"p":215.65},{"b":175.6,"p":215.816},{"b":177.6,"p":215.635},{"b":179.9,"p":215.784},{"b":181.8,"p":215.866},{"b":182.6,"p":215.717},{"b":183.4,"p":215.37},{"b":184.5,"p":215.486},{"b":186.5,"p":215.568},{"b":188.3,"p":215.37}],
"mag1":[{"b":188.3,"p":215.37},{"b":189.9,"p":215.618},{"b":191.4,"p":215.841}]
},
"vconcat":[
{
"title":{"text":"GBPJPY.oj1m,H4","anchor":"start","fontSize":9,"font":"Liberation Sans","fontWeight":"normal","color":"#97a3b0","offset":3,"dx":11},
"width":1018,"height":233,
"layer":[
{"data":{"values":[{}]},"mark":{"type":"rect","color":"#000000"},
 "encoding":{"x":{"datum":-0.47,"type":"quantitative","scale":{"domain":[-0.47,236.83],"nice":false,"zero":false,"padding":0},"axis":null},"x2":{"datum":236.83},"y":{"datum":208.616,"type":"quantitative","scale":{"domain":[208.616,216.28],"nice":false,"zero":false,"padding":0},"axis":null},"y2":{"datum":216.28}}},
{"data":{"values":[{}]},"mark":{"type":"rule","color":"#8c8c8c","strokeWidth":1},
 "encoding":{"x":{"datum":230.8,"type":"quantitative","axis":null},"y":{"datum":216.28,"type":"quantitative","axis":null},"y2":{"datum":208.945}}},
{"data":{"values":[{}]},"mark":{"type":"rule","color":"#8c8c8c","strokeWidth":1},
 "encoding":{"x":{"datum":-0.47,"type":"quantitative","axis":null},"x2":{"datum":230.8},"y":{"datum":208.945,"type":"quantitative","axis":null}}},
{"data":{"name":"xl4"},"mark":{"type":"rule","color":"#8c8c8c","strokeWidth":1},
 "encoding":{"x":{"field":"b","type":"quantitative","axis":null},"y":{"datum":208.945,"type":"quantitative","axis":null},"y2":{"datum":208.846}}},
{"data":{"name":"xl4"},"mark":{"type":"text","color":"#c4c4c4","fontSize":5,"font":"Liberation Sans","align":"left","baseline":"top","dx":1},
 "encoding":{"x":{"field":"b","type":"quantitative","axis":null},"y":{"datum":208.846,"type":"quantitative","axis":null},"text":{"field":"t"}}},
{"data":{"name":"yl4"},"mark":{"type":"rule","color":"#8c8c8c","strokeWidth":1},
 "encoding":{"x":{"datum":230.8,"type":"quantitative","axis":null},"x2":{"datum":231.5},"y":{"field":"p","type":"quantitative","axis":null}}},
{"data":{"name":"yl4"},"mark":{"type":"text","color":"#c4c4c4","fontSize":6,"font":"Liberation Sans","align":"left","baseline":"middle"},
 "encoding":{"x":{"datum":231.75,"type":"quantitative","axis":null},"y":{"field":"p","type":"quantitative","axis":null},"text":{"field":"t"}}},
{"data":{"name":"h4"},"mark":{"type":"rule","strokeWidth":1},
 "encoding":{"x":{"field":"b","type":"quantitative","axis":null},"y":{"field":"l","type":"quantitative","axis":null},"y2":{"field":"h"},
 "color":{"condition":{"test":"datum.c >= datum.o","value":"#22cfc8"},"value":"#ff4a12"}}},
{"data":{"name":"h4"},"mark":{"type":"bar","size":3},
 "encoding":{"x":{"field":"b","type":"quantitative","axis":null},"y":{"field":"o","type":"quantitative","axis":null},"y2":{"field":"c"},
 "color":{"condition":{"test":"datum.c >= datum.o","value":"#22cfc8"},"value":"#ff4a12"}}},
{"data":{"values":[{}]},"mark":{"type":"rule","color":"#b4b4b4","strokeWidth":1},
 "encoding":{"x":{"datum":-0.47,"type":"quantitative","axis":null},"x2":{"datum":230.8},"y":{"datum":211.555,"type":"quantitative","axis":null}}},
{"data":{"values":[{}]},"mark":{"type":"rule","color":"#c8861e","strokeWidth":1},
 "encoding":{"x":{"datum":-0.47,"type":"quantitative","axis":null},"x2":{"datum":230.8},"y":{"datum":215.313,"type":"quantitative","axis":null}}},
{"data":{"values":[{}]},"mark":{"type":"rule","color":"#3c3c3c","strokeWidth":1},
 "encoding":{"x":{"datum":-0.47,"type":"quantitative","axis":null},"x2":{"datum":230.8},"y":{"datum":215.423,"type":"quantitative","axis":null}}},
{"data":{"name":"ma4"},"mark":{"type":"line","color":"#3a5bd6","strokeWidth":1.2,"interpolate":"monotone"},
 "encoding":{"x":{"field":"b","type":"quantitative","axis":null},"y":{"field":"p","type":"quantitative","axis":null}}},
{"data":{"values":[{}]},"mark":{"type":"rect","filled":false,"stroke":"#ff8000","strokeWidth":2},
 "encoding":{"x":{"datum":178.3,"type":"quantitative","axis":null},"x2":{"datum":196.0},"y":{"datum":215.24,"type":"quantitative","axis":null},"y2":{"datum":214.25}}},
{"data":{"name":"yel4"},"mark":{"type":"line","color":"#ffff00","strokeWidth":2},
 "encoding":{"x":{"field":"b","type":"quantitative","axis":null},"y":{"field":"p","type":"quantitative","axis":null}}},
{"data":{"name":"mag4"},"mark":{"type":"line","color":"#e8207a","strokeWidth":2,"interpolate":"monotone"},
 "encoding":{"x":{"field":"b","type":"quantitative","axis":null},"y":{"field":"p","type":"quantitative","axis":null}}},
{"data":{"values":[{}]},"mark":{"type":"rect","color":"#f0a020"},
 "encoding":{"x":{"datum":231.3,"type":"quantitative","axis":null},"x2":{"datum":236.6},"y":{"datum":215.463,"type":"quantitative","axis":null},"y2":{"datum":215.163}}},
{"data":{"values":[{}]},"mark":{"type":"text","text":"215.313","fontSize":6,"color":"#000000","align":"left","baseline":"middle"},
 "encoding":{"x":{"datum":231.5,"type":"quantitative","axis":null},"y":{"datum":215.313,"type":"quantitative","axis":null}}},
{"data":{"values":[{}]},"mark":{"type":"rect","color":"#ffffff"},
 "encoding":{"x":{"datum":231.3,"type":"quantitative","axis":null},"x2":{"datum":236.6},"y":{"datum":211.705,"type":"quantitative","axis":null},"y2":{"datum":211.405}}},
{"data":{"values":[{}]},"mark":{"type":"text","text":"211.555","fontSize":6,"color":"#000000","align":"left","baseline":"middle"},
 "encoding":{"x":{"datum":231.5,"type":"quantitative","axis":null},"y":{"datum":211.555,"type":"quantitative","axis":null}}},
{"data":{"values":[{}]},"mark":{"type":"text","text":"▼ GBPJPY.oj1m,H4  215.453 215.461 215.357 215.423","fontSize":5,"color":"#9a9a9a","align":"left","baseline":"middle"},
 "encoding":{"x":{"datum":0.2,"type":"quantitative","axis":null},"y":{"datum":216.17,"type":"quantitative","axis":null}}},
{"data":{"values":[{}]},"mark":{"type":"text","text":"GBP JPY","font":"Liberation Sans","fontSize":13,"color":"#1e9ad6","align":"left","baseline":"middle"},
 "encoding":{"x":{"datum":-0.3,"type":"quantitative","axis":null},"y":{"datum":215.8,"type":"quantitative","axis":null}}},
{"data":{"values":[{}]},"mark":{"type":"text","text":"メイン","font":"Noto Sans CJK JP","fontSize":12,"fontWeight":"bold","color":"#ffffff","align":"left","baseline":"middle"},
 "encoding":{"x":{"datum":15.6,"type":"quantitative","axis":null},"y":{"datum":215.8,"type":"quantitative","axis":null}}},
{"data":{"values":[{}]},"mark":{"type":"text","text":"H4","font":"Liberation Sans","fontSize":19,"color":"#f2a007","align":"right","baseline":"middle"},
 "encoding":{"x":{"datum":230.5,"type":"quantitative","axis":null},"y":{"datum":215.9,"type":"quantitative","axis":null}}}
]
},
{
"title":{"text":"GBPJPY.oj1m,H1","anchor":"start","fontSize":9,"font":"Liberation Sans","fontWeight":"normal","color":"#97a3b0","offset":3,"dx":11},
"width":1018,"height":233,
"layer":[
{"data":{"values":[{}]},"mark":{"type":"rect","color":"#000000"},
 "encoding":{"x":{"datum":-0.47,"type":"quantitative","scale":{"domain":[-0.47,236.83],"nice":false,"zero":false,"padding":0},"axis":null},"x2":{"datum":236.83},"y":{"datum":210.43,"type":"quantitative","scale":{"domain":[210.43,216.213],"nice":false,"zero":false,"padding":0},"axis":null},"y2":{"datum":216.213}}},
{"data":{"values":[{}]},"mark":{"type":"rule","color":"#8c8c8c","strokeWidth":1},
 "encoding":{"x":{"datum":230.8,"type":"quantitative","axis":null},"y":{"datum":216.213,"type":"quantitative","axis":null},"y2":{"datum":210.678}}},
{"data":{"values":[{}]},"mark":{"type":"rule","color":"#8c8c8c","strokeWidth":1},
 "encoding":{"x":{"datum":-0.47,"type":"quantitative","axis":null},"x2":{"datum":230.8},"y":{"datum":210.678,"type":"quantitative","axis":null}}},
{"data":{"name":"xl1"},"mark":{"type":"rule","color":"#8c8c8c","strokeWidth":1},
 "encoding":{"x":{"field":"b","type":"quantitative","axis":null},"y":{"datum":210.678,"type":"quantitative","axis":null},"y2":{"datum":210.604}}},
{"data":{"name":"xl1"},"mark":{"type":"text","color":"#c4c4c4","fontSize":5,"font":"Liberation Sans","align":"left","baseline":"top","dx":1},
 "encoding":{"x":{"field":"b","type":"quantitative","axis":null},"y":{"datum":210.604,"type":"quantitative","axis":null},"text":{"field":"t"}}},
{"data":{"name":"yl1"},"mark":{"type":"rule","color":"#8c8c8c","strokeWidth":1},
 "encoding":{"x":{"datum":230.8,"type":"quantitative","axis":null},"x2":{"datum":231.5},"y":{"field":"p","type":"quantitative","axis":null}}},
{"data":{"name":"yl1"},"mark":{"type":"text","color":"#c4c4c4","fontSize":6,"font":"Liberation Sans","align":"left","baseline":"middle"},
 "encoding":{"x":{"datum":231.75,"type":"quantitative","axis":null},"y":{"field":"p","type":"quantitative","axis":null},"text":{"field":"t"}}},
{"data":{"name":"h1"},"mark":{"type":"rule","strokeWidth":1},
 "encoding":{"x":{"field":"b","type":"quantitative","axis":null},"y":{"field":"l","type":"quantitative","axis":null},"y2":{"field":"h"},
 "color":{"condition":{"test":"datum.c >= datum.o","value":"#22cfc8"},"value":"#ff4a12"}}},
{"data":{"name":"h1"},"mark":{"type":"bar","size":3},
 "encoding":{"x":{"field":"b","type":"quantitative","axis":null},"y":{"field":"o","type":"quantitative","axis":null},"y2":{"field":"c"},
 "color":{"condition":{"test":"datum.c >= datum.o","value":"#22cfc8"},"value":"#ff4a12"}}},
{"data":{"values":[{}]},"mark":{"type":"rule","color":"#b4b4b4","strokeWidth":1},
 "encoding":{"x":{"datum":-0.47,"type":"quantitative","axis":null},"x2":{"datum":230.8},"y":{"datum":211.555,"type":"quantitative","axis":null}}},
{"data":{"values":[{}]},"mark":{"type":"rule","color":"#c8861e","strokeWidth":1},
 "encoding":{"x":{"datum":-0.47,"type":"quantitative","axis":null},"x2":{"datum":230.8},"y":{"datum":215.313,"type":"quantitative","axis":null}}},
{"data":{"values":[{}]},"mark":{"type":"rule","color":"#3c3c3c","strokeWidth":1},
 "encoding":{"x":{"datum":-0.47,"type":"quantitative","axis":null},"x2":{"datum":230.8},"y":{"datum":215.423,"type":"quantitative","axis":null}}},
{"data":{"values":[{}]},"mark":{"type":"rule","color":"#226b22","strokeWidth":1},
 "encoding":{"x":{"datum":-0.47,"type":"quantitative","axis":null},"x2":{"datum":230.8},"y":{"datum":215.589,"type":"quantitative","axis":null}}},
{"data":{"name":"ma1"},"mark":{"type":"line","color":"#3a5bd6","strokeWidth":1.2,"interpolate":"monotone"},
 "encoding":{"x":{"field":"b","type":"quantitative","axis":null},"y":{"field":"p","type":"quantitative","axis":null}}},
{"data":{"values":[{}]},"mark":{"type":"rect","filled":false,"stroke":"#ff8000","strokeWidth":2},
 "encoding":{"x":{"datum":150.1,"type":"quantitative","axis":null},"x2":{"datum":203.9},"y":{"datum":215.295,"type":"quantitative","axis":null},"y2":{"datum":214.31}}},
{"data":{"values":[{}]},"mark":{"type":"rect","filled":false,"stroke":"#3ccc3c","strokeWidth":2},
 "encoding":{"x":{"datum":184.4,"type":"quantitative","axis":null},"x2":{"datum":203.1},"y":{"datum":216.338,"type":"quantitative","axis":null},"y2":{"datum":215.618}}},
{"data":{"name":"yel1"},"mark":{"type":"line","color":"#ffff00","strokeWidth":2,"interpolate":"monotone"},
 "encoding":{"x":{"field":"b","type":"quantitative","axis":null},"y":{"field":"p","type":"quantitative","axis":null}}},
{"data":{"name":"mag1"},"mark":{"type":"line","color":"#e8207a","strokeWidth":2},
 "encoding":{"x":{"field":"b","type":"quantitative","axis":null},"y":{"field":"p","type":"quantitative","axis":null}}},
{"data":{"values":[{}]},"mark":{"type":"rect","color":"#2ec42e"},
 "encoding":{"x":{"datum":231.3,"type":"quantitative","axis":null},"x2":{"datum":236.6},"y":{"datum":215.7,"type":"quantitative","axis":null},"y2":{"datum":215.478}}},
{"data":{"values":[{}]},"mark":{"type":"text","text":"215.589","fontSize":6,"color":"#000000","align":"left","baseline":"middle"},
 "encoding":{"x":{"datum":231.5,"type":"quantitative","axis":null},"y":{"datum":215.589,"type":"quantitative","axis":null}}},
{"data":{"values":[{}]},"mark":{"type":"rect","color":"#f0a020"},
 "encoding":{"x":{"datum":231.3,"type":"quantitative","axis":null},"x2":{"datum":236.6},"y":{"datum":215.424,"type":"quantitative","axis":null},"y2":{"datum":215.202}}},
{"data":{"values":[{}]},"mark":{"type":"text","text":"215.313","fontSize":6,"color":"#000000","align":"left","baseline":"middle"},
 "encoding":{"x":{"datum":231.5,"type":"quantitative","axis":null},"y":{"datum":215.313,"type":"quantitative","axis":null}}},
{"data":{"values":[{}]},"mark":{"type":"rect","color":"#ffffff"},
 "encoding":{"x":{"datum":231.3,"type":"quantitative","axis":null},"x2":{"datum":236.6},"y":{"datum":211.666,"type":"quantitative","axis":null},"y2":{"datum":211.444}}},
{"data":{"values":[{}]},"mark":{"type":"text","text":"211.555","fontSize":6,"color":"#000000","align":"left","baseline":"middle"},
 "encoding":{"x":{"datum":231.5,"type":"quantitative","axis":null},"y":{"datum":211.555,"type":"quantitative","axis":null}}},
{"data":{"values":[{}]},"mark":{"type":"text","text":"▼ GBPJPY.oj1m,H1  215.453 215.461 215.357 215.423","fontSize":5,"color":"#9a9a9a","align":"left","baseline":"middle"},
 "encoding":{"x":{"datum":0.2,"type":"quantitative","axis":null},"y":{"datum":216.16,"type":"quantitative","axis":null}}},
{"data":{"values":[{}]},"mark":{"type":"text","text":"GBP JPY","font":"Liberation Sans","fontSize":13,"color":"#1e9ad6","align":"left","baseline":"middle"},
 "encoding":{"x":{"datum":-0.3,"type":"quantitative","axis":null},"y":{"datum":215.86,"type":"quantitative","axis":null}}},
{"data":{"values":[{}]},"mark":{"type":"text","text":"メイン","font":"Noto Sans CJK JP","fontSize":12,"fontWeight":"bold","color":"#ffffff","align":"left","baseline":"middle"},
 "encoding":{"x":{"datum":15.6,"type":"quantitative","axis":null},"y":{"datum":215.86,"type":"quantitative","axis":null}}},
{"data":{"values":[{}]},"mark":{"type":"text","text":"H1","font":"Liberation Sans","fontSize":19,"color":"#2cc04a","align":"right","baseline":"middle"},
 "encoding":{"x":{"datum":230.5,"type":"quantitative","axis":null},"y":{"datum":215.92,"type":"quantitative","axis":null}}}
]
}
]
}
